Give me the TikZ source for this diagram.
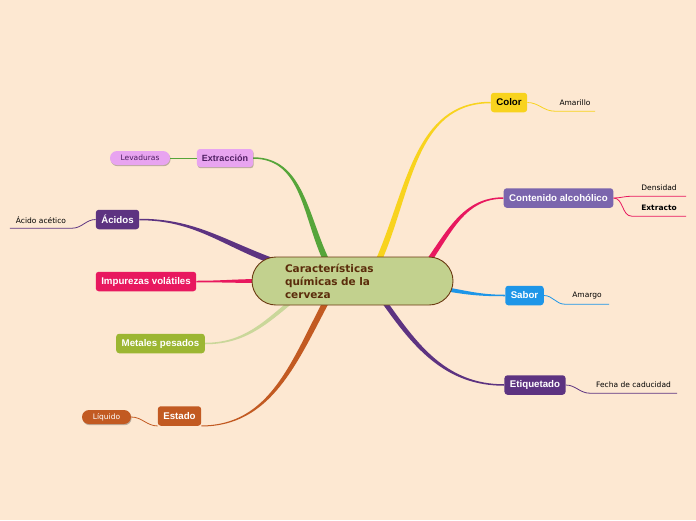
\documentclass[tikz,border=0pt]{standalone}
\usepackage{fontspec}
\setmainfont{Liberation Sans}
\newfontfamily\djv{DejaVu Sans}
\usepackage{tikz}
\usetikzlibrary{calc,shadows}
\definecolor{Paper}{HTML}{FDE8D2}
\definecolor{BeerFill}{HTML}{C2D18E}
\definecolor{BeerEdge}{HTML}{6B3A12}
\definecolor{BeerText}{HTML}{5B2C0B}
\definecolor{ColorGold}{HTML}{F8D31E}
\definecolor{AlcPurple}{HTML}{7B65AD}
\definecolor{Crimson}{HTML}{E8185F}
\definecolor{TasteBlue}{HTML}{1E96E8}
\definecolor{DeepPurple}{HTML}{5D3381}
\definecolor{Orchid}{HTML}{E8A4F0}
\definecolor{OrchidText}{HTML}{4E1E62}
\definecolor{LeafGreen}{HTML}{56A53A}
\definecolor{PaleGreen}{HTML}{CAD79A}
\definecolor{OliveGreen}{HTML}{9CB632}
\definecolor{Rust}{HTML}{C25A22}
\pgfdeclarelayer{bg}
\pgfsetlayers{bg,main}
% tapered branch: colour, start offset from beer, out, end, in, widths
\newcommand{\mapbranch}[7]{%
 \fill[#1] ($(beer)+(#2)+(#3+90:#6/2)$) to[out=#3,in=#5] ($(#4)+(#5-90:#7/2)$)
 -- ($(#4)+(#5+90:#7/2)$) to[out=#5,in=#3] ($(beer)+(#2)+(#3-90:#6/2)$) -- cycle;}

\begin{document}
\begin{tikzpicture}[x=1pt,y=1pt,
 topic/.style={rounded corners=3pt,minimum height=19.5pt,inner xsep=5.5pt,inner ysep=0pt,
  text=white,font=\bfseries\fontsize{9.7}{11}\selectfont},
 leaf/.style={minimum height=16pt,inner sep=0pt,font=\djv\fontsize{7.5}{9}\selectfont},
 pill/.style={rounded corners=7pt,minimum height=14pt,inner sep=0pt,
  font=\djv\fontsize{7.5}{9}\selectfont,
  drop shadow={shadow xshift=0.6pt,shadow yshift=-1.2pt,fill=black,opacity=0.25}},
 twig/.style={line width=0.8pt}]
\useasboundingbox (0,0) rectangle (696,-520);
\begin{pgfonlayer}{bg}
\fill[Paper] (0,0) rectangle (696,-520);
\end{pgfonlayer}

\node[draw=BeerEdge,line width=0.9pt,fill=BeerFill,rounded corners=24pt,
 minimum height=48pt,text width=135pt,inner xsep=33pt,inner ysep=0pt,align=left,
 text=BeerText,font=\djv\bfseries\fontsize{10.5}{13}\selectfont]
 (beer) at (352.5,-281) {Características\\químicas de la\\cerveza};

\node[topic,fill=ColorGold,text=black] (color) at (509,-102.5) {Color};
\node[topic,fill=AlcPurple] (alcohol) at (558.5,-198) {Contenido alcohólico};
\node[topic,fill=TasteBlue] (taste) at (524.5,-295.5) {Sabor};
\node[topic,fill=DeepPurple] (label) at (535,-385) {Etiquetado};
\node[topic,fill=Orchid,text=OrchidText,minimum height=18pt,inner xsep=5pt,
 font=\bfseries\fontsize{9}{11}\selectfont,
 drop shadow={shadow xshift=0.6pt,shadow yshift=-1.2pt,fill=black,opacity=0.25}]
 (extract) at (225,-158) {Extracción};
\node[topic,fill=DeepPurple] (acids) at (117.5,-219.5) {Ácidos};
\node[topic,fill=Crimson] (volatile) at (146,-281.5) {Impurezas volátiles};
\node[topic,fill=OliveGreen] (metals) at (160.5,-343.5) {Metales pesados};
\node[topic,fill=Rust] (state) at (179.5,-416) {Estado};

\node[pill,fill=Orchid,text=OrchidText,minimum width=60pt] (yeast) at (140,-158) {Levaduras};
\node[pill,fill=Rust,text=white,minimum width=49pt] (liquid) at (106.5,-417) {Líquido};

\node[leaf,minimum width=40pt] (yellow) at (575,-103) {Amarillo};
\node[leaf,minimum width=54pt] (density) at (659,-188) {Densidad};
\node[leaf,minimum width=54pt,font=\djv\bfseries\fontsize{7.5}{9}\selectfont]
 (extractum) at (659,-208) {Extracto};
\node[leaf,minimum width=44pt] (bitter) at (587,-296) {Amargo};
\node[leaf,minimum width=87pt] (expiry) at (633.5,-385) {Fecha de caducidad};
\node[leaf,minimum width=62pt] (acetic) at (41,-220) {Ácido acético};

\begin{pgfonlayer}{bg}
\mapbranch{ColorGold}{25.5,19}{66}{color.west}{180}{6}{1.5}
\mapbranch{Crimson}{75.5,19}{55}{alcohol.west}{180}{5}{1.5}
\mapbranch{TasteBlue}{92.5,-8}{-10}{taste.west}{180}{4}{1.5}
\mapbranch{DeepPurple}{30.5,-19}{-55}{label.west}{180}{5}{1.5}
\mapbranch{LeafGreen}{-25.5,19}{116}{extract.east}{0}{6}{1.5}
\mapbranch{DeepPurple}{-77.5,19}{160}{acids.east}{0}{6}{1.5}
\mapbranch{Crimson}{-90.5,0}{180}{volatile.east}{0}{4}{1.5}
\mapbranch{PaleGreen}{-59.5,-19}{-140}{metals.east}{0}{4}{1.5}
\mapbranch{Rust}{-25.5,-19}{-118}{state.south east}{0}{6}{1}
\end{pgfonlayer}

\draw[twig,ColorGold] (color.east) to[out=0,in=180] (yellow.south west) -- (yellow.south east);
\draw[twig,Crimson] (alcohol.east) to[out=0,in=180] (density.south west) -- (density.south east);
\draw[twig,Crimson] (alcohol.east) to[out=0,in=180] (extractum.south west) -- (extractum.south east);
\draw[twig,TasteBlue] (taste.east) to[out=0,in=180] (bitter.south west) -- (bitter.south east);
\draw[twig,DeepPurple] (label.east) to[out=0,in=180] (expiry.south west) -- (expiry.south east);
\draw[twig,DeepPurple] (acids.west) to[out=180,in=0] (acetic.south east) -- (acetic.south west);
\draw[twig,LeafGreen] (extract.west) -- (yeast.east);
\draw[twig,Rust] (liquid.east) to[out=0,in=180] (state.south west);
\end{tikzpicture}
\end{document}
